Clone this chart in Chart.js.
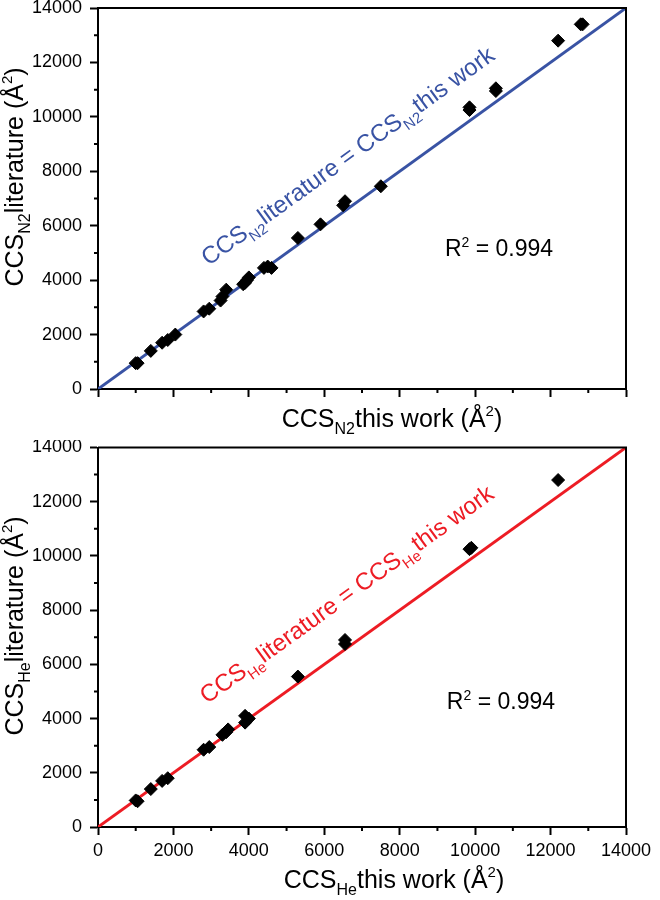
<!DOCTYPE html>
<html lang="en">
<head>
  <meta charset="UTF-8" />
  <title>CCS literature vs this work</title>
  <script src="https://cdn.jsdelivr.net/npm/chart.js"></script>
  <style>
    body { margin: 0; background: #fff; }
    .box { position: relative; width: 660px; }
  </style>
</head>
<body>
  <div class="box" style="height:440px"><canvas id="n2Chart"></canvas></div>
  <div class="box" style="height:460px"><canvas id="heChart"></canvas></div>

  <script>
    // N2 drift gas: this work (x) vs literature (y), in Å²
    const n2This = [1000, 1050, 1400, 1700, 1850, 2050, 2800, 2950, 3250, 3300, 3400, 3850, 3900, 3950, 4000, 4400, 4500, 4600, 5300, 5900, 6550, 6500, 7500, 9850, 9850, 10550, 10550, 12200, 12800, 12850];
    const n2Lit  = [ 950,  950, 1400, 1700, 1800, 2000, 2850, 2950, 3250, 3400, 3650, 3850, 3900, 4000, 4100, 4450, 4500, 4450, 5550, 6050, 6900, 6750, 7450, 10250, 10350, 11050, 10950, 12800, 13400, 13400];

    // He drift gas
    const heThis = [1000, 1050, 1400, 1700, 1850, 2800, 2950, 3300, 3400, 3450, 3900, 3900, 4000, 5300, 6550, 6550, 9850, 9900, 12200];
    const heLit  = [ 980,  950, 1400, 1700, 1800, 2850, 2950, 3400, 3500, 3600, 3850, 4100, 4000, 5550, 6900, 6750, 10250, 10300, 12800];

    const axisMax = 14000;
    const majorStep = 2000;
    const minorStep = 1000;
    const identity = [{ x: 0, y: 0 }, { x: axisMax, y: axisMax }];

    const FONT = "'Liberation Sans', Arial, sans-serif";

    function richText(ctx, parts, x, y, align) {
      let w = 0;
      parts.forEach(p => {
        ctx.font = p.size + 'px ' + FONT;
        w += ctx.measureText(p.text).width;
      });
      let cx = align === 'center' ? x - w / 2 : x;
      ctx.textAlign = 'left';
      ctx.textBaseline = 'alphabetic';
      parts.forEach(p => {
        ctx.font = p.size + 'px ' + FONT;
        ctx.fillText(p.text, cx, y + (p.dy || 0));
        cx += ctx.measureText(p.text).width;
      });
    }

    function titleParts(gas, word) {
      return [
        { text: 'CCS', size: 25 },
        { text: gas, size: 16, dy: 7 },
        { text: word + ' (Å', size: 25 },
        { text: '2', size: 15, dy: -11 },
        { text: ')', size: 25 }
      ];
    }

    function lineParts(gas) {
      return [
        { text: 'CCS', size: 24 },
        { text: gas, size: 15, dy: 7 },
        { text: 'literature = CCS', size: 24 },
        { text: gas, size: 15, dy: 7 },
        { text: 'this work', size: 24 }
      ];
    }

    const r2Parts = [
      { text: 'R', size: 23 },
      { text: '2', size: 14, dy: -9 },
      { text: ' = 0.994', size: 23 }
    ];

    function makeDecor(cfg) {
      return {
        id: 'decor',
        afterDraw(chart) {
          const ctx = chart.ctx;
          const a = chart.chartArea;
          const xs = chart.scales.x, ys = chart.scales.y;
          ctx.save();
          ctx.strokeStyle = '#000';
          ctx.lineWidth = 2;
          // top and right frame
          ctx.beginPath();
          ctx.moveTo(a.left, a.top);
          ctx.lineTo(a.right, a.top);
          ctx.lineTo(a.right, a.bottom);
          ctx.stroke();
          // minor ticks
          ctx.beginPath();
          for (let v = minorStep; v < axisMax; v += majorStep) {
            const px = xs.getPixelForValue(v);
            ctx.moveTo(px, a.bottom);
            ctx.lineTo(px, a.bottom + 4);
            const py = ys.getPixelForValue(v);
            ctx.moveTo(a.left, py);
            ctx.lineTo(a.left - 4, py);
          }
          ctx.stroke();

          ctx.fillStyle = '#000';
          // x title
          richText(ctx, titleParts(cfg.gas, 'this work'), cfg.xTitle[0], cfg.xTitle[1], 'center');
          // y title
          ctx.save();
          ctx.translate(cfg.yTitle[0], cfg.yTitle[1]);
          ctx.rotate(-Math.PI / 2);
          richText(ctx, titleParts(cfg.gas, 'literature'), 0, 0, 'center');
          ctx.restore();

          // label along the identity line
          const x0 = xs.getPixelForValue(0), y0 = ys.getPixelForValue(0);
          const x1 = xs.getPixelForValue(axisMax), y1 = ys.getPixelForValue(axisMax);
          const ang = Math.atan2(y1 - y0, x1 - x0);
          ctx.save();
          ctx.translate(xs.getPixelForValue(cfg.labelAt), ys.getPixelForValue(cfg.labelAt));
          ctx.rotate(ang);
          ctx.fillStyle = cfg.color;
          richText(ctx, lineParts(cfg.gas), 0, -cfg.labelOffset, 'left');
          ctx.restore();

          // R squared
          ctx.fillStyle = '#000';
          richText(ctx, r2Parts, xs.getPixelForValue(cfg.r2At[0]), ys.getPixelForValue(cfg.r2At[1]), 'left');
          ctx.restore();
        }
      };
    }

    function makeChart(id, xVals, yVals, cfg) {
      const pts = xVals.map((v, i) => ({ x: v, y: yVals[i] }));
      return new Chart(document.getElementById(id), {
        type: 'scatter',
        data: {
          datasets: [
            {
              type: 'line',
              data: identity,
              borderColor: cfg.color,
              borderWidth: 3,
              pointRadius: 0,
              order: 2
            },
            {
              data: pts,
              pointStyle: 'rectRot',
              pointRadius: 6.5,
              backgroundColor: '#000',
              borderColor: '#000',
              borderWidth: 1,
              order: 1
            }
          ]
        },
        options: {
          responsive: true,
          maintainAspectRatio: false,
          animation: false,
          layout: { padding: { left: 0, right: 34, top: cfg.padTop, bottom: 0 } },
          plugins: { legend: { display: false }, tooltip: { enabled: false } },
          scales: {
            x: {
              type: 'linear',
              min: 0,
              max: axisMax,
              afterFit: s => { s.height = cfg.xHeight; s.paddingLeft = 0; s.paddingRight = 0; },
              ticks: {
                display: cfg.xLabels,
                stepSize: majorStep,
                padding: 5,
                color: '#000',
                font: { size: 18, family: FONT },
                callback: v => String(v)
              },
              grid: { drawOnChartArea: false, tickLength: 8, tickWidth: 2, tickColor: '#000' },
              border: { color: '#000', width: 2 }
            },
            y: {
              type: 'linear',
              min: 0,
              max: axisMax,
              afterFit: s => { s.width = 98; s.paddingTop = 0; s.paddingBottom = 0; },
              ticks: {
                stepSize: majorStep,
                padding: 8,
                color: '#000',
                font: { size: 18, family: FONT },
                callback: v => String(v)
              },
              grid: { drawOnChartArea: false, tickLength: 8, tickWidth: 2, tickColor: '#000' },
              border: { color: '#000', width: 2 }
            }
          }
        },
        plugins: [makeDecor(cfg)]
      });
    }

    makeChart('n2Chart', n2This, n2Lit, {
      gas: 'N2',
      color: '#3953a4',
      padTop: 8,
      xHeight: 51,
      xLabels: false,
      xTitle: [392, 427],
      yTitle: [23, 177],
      labelAt: 3470,
      labelOffset: 35,
      r2At: [9200, 4900]
    });

    makeChart('heChart', heThis, heLit, {
      gas: 'He',
      color: '#ed1c24',
      padTop: 5,
      xHeight: 73,
      xLabels: true,
      xTitle: [394, 448],
      yTitle: [23, 186],
      labelAt: 3450,
      labelOffset: 36,
      r2At: [9250, 4350]
    });
  </script>
</body>
</html>
